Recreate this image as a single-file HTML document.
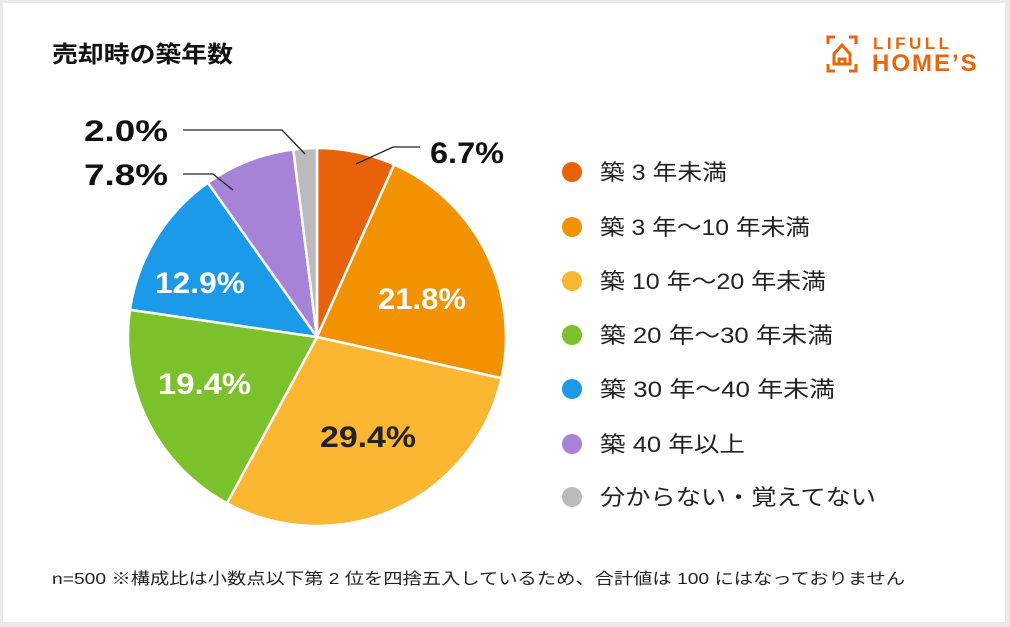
<!DOCTYPE html>
<html><head><meta charset="utf-8"><style>
html,body{margin:0;padding:0;}
body{width:1010px;height:627px;background:#e9e9e9;position:relative;overflow:hidden;font-family:"Liberation Sans","Noto Sans CJK JP",sans-serif;}
#card{position:absolute;left:3px;top:3px;width:1002px;height:619px;background:#fff;}
</style></head><body>
<div id="card"></div>
<svg id="s" width="1010" height="627" style="position:absolute;left:0;top:0" font-family="Liberation Sans, Noto Sans CJK JP, sans-serif">
<text x="52" y="62" font-size="23" font-weight="bold" fill="#111" textLength="181" lengthAdjust="spacingAndGlyphs">売却時の築年数</text>
<g stroke="#e8650f" stroke-width="3" fill="none">
<path d="M828 44 v-7 h7 M849 37 h7 v7 M828 64 v7 h7 M856 64 v7 h-7"/>
<path d="M834 54 l8-9 l8 9 v10 h-16 z M839 64 v-5 h6 v5"/>
</g>
<text x="873" y="49" font-size="17" font-weight="bold" fill="#e8650f" letter-spacing="3.5">LIFULL</text>
<text x="872" y="71" font-size="24" font-weight="bold" fill="#e8650f" letter-spacing="2">HOME’S</text>
<g id="pie"></g>
<g stroke="#222" stroke-width="1.3" fill="none">
<polyline points="183,130 282,130 305,154"/>
<polyline points="183,174 213,174 233,190"/>
<polyline points="356,164 393,147 420,147"/>
</g>
<g font-weight="bold" font-size="30">
<text x="84" y="141" fill="#111" textLength="84" lengthAdjust="spacingAndGlyphs">2.0%</text>
<text x="84" y="185" fill="#111" textLength="84" lengthAdjust="spacingAndGlyphs">7.8%</text>
<text x="430" y="163" fill="#111" textLength="74" lengthAdjust="spacingAndGlyphs">6.7%</text>
<text x="378" y="309" fill="#fff" textLength="88" lengthAdjust="spacingAndGlyphs">21.8%</text>
<text x="320" y="447" fill="#222" textLength="96" lengthAdjust="spacingAndGlyphs">29.4%</text>
<text x="158" y="394" fill="#fff" textLength="93" lengthAdjust="spacingAndGlyphs">19.4%</text>
<text x="155" y="293" fill="#fff" textLength="90" lengthAdjust="spacingAndGlyphs">12.9%</text>
</g>
<g font-size="22" fill="#222">
<circle cx="572" cy="172" r="10" fill="#e8620a"/><text x="600" y="180" textLength="127" lengthAdjust="spacingAndGlyphs">築 3 年未満</text>
<circle cx="572" cy="227" r="10" fill="#f29200"/><text x="600" y="235" textLength="210" lengthAdjust="spacingAndGlyphs">築 3 年〜10 年未満</text>
<circle cx="572" cy="281" r="10" fill="#fbb731"/><text x="600" y="289" textLength="226" lengthAdjust="spacingAndGlyphs">築 10 年〜20 年未満</text>
<circle cx="572" cy="335" r="10" fill="#7ac12c"/><text x="600" y="343" textLength="233" lengthAdjust="spacingAndGlyphs">築 20 年〜30 年未満</text>
<circle cx="572" cy="389" r="10" fill="#1a9ae9"/><text x="600" y="397" textLength="235" lengthAdjust="spacingAndGlyphs">築 30 年〜40 年未満</text>
<circle cx="572" cy="444" r="10" fill="#a783d8"/><text x="600" y="452" textLength="145" lengthAdjust="spacingAndGlyphs">築 40 年以上</text>
<circle cx="572" cy="497" r="10" fill="#bbbbbb"/><text x="600" y="505" textLength="276" lengthAdjust="spacingAndGlyphs">分からない・覚えてない</text>
</g>
<text x="52" y="584" font-size="16" fill="#222" textLength="853" lengthAdjust="spacingAndGlyphs">n=500 ※構成比は小数点以下第 2 位を四捨五入しているため、合計値は 100 にはなっておりません</text>
</svg>
<script>
var cx=317,cy=337,r=189,v=[6.7,21.8,29.4,19.4,12.9,7.8,2.0],c=["#e8620a","#f29200","#fbb731","#7ac12c","#1a9ae9","#a783d8","#bbbbbb"];
var tot=0;v.forEach(function(x){tot+=x});var a=0,h="";
v.forEach(function(x,i){var b=a+x/tot*2*Math.PI;
var x1=cx+r*Math.sin(a),y1=cy-r*Math.cos(a),x2=cx+r*Math.sin(b),y2=cy-r*Math.cos(b);
h+='<path d="M'+cx+' '+cy+' L'+x1+' '+y1+' A'+r+' '+r+' 0 '+((b-a)>Math.PI?1:0)+' 1 '+x2+' '+y2+' Z" fill="'+c[i]+'" stroke="#fff" stroke-width="2.5"/>';a=b;});
document.getElementById("pie").innerHTML=h;
</script>
</body></html>
